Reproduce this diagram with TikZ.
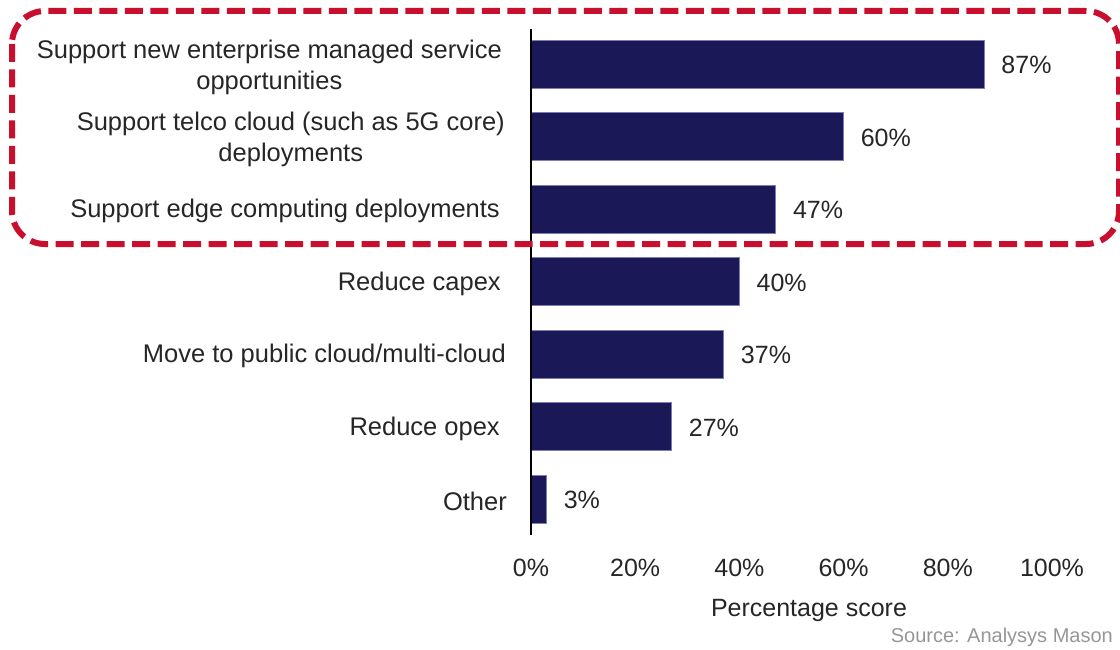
\documentclass[tikz,border=0pt]{standalone}
\usepackage{fontspec}
\setmainfont{Liberation Sans}
\definecolor{barfill}{RGB}{27,24,88}
\definecolor{barline}{RGB}{125,125,180}
\definecolor{hlred}{RGB}{200,16,46}
\definecolor{txt}{RGB}{38,38,38}
\definecolor{srcgray}{RGB}{150,150,150}
\begin{document}
\begin{tikzpicture}[x=1pt,y=-1pt,
  lbl/.style={anchor=east,inner sep=0pt,align=center,text=txt,font=\fontsize{25.5}{31}\selectfont},
  val/.style={anchor=west,inner sep=0pt,text=txt,font=\fontsize{25}{30}\selectfont},
  tick/.style={anchor=center,inner sep=0pt,text=txt,font=\fontsize{25}{30}\selectfont},
  bar/.style={fill=barfill,draw=barline,line width=0.8pt},
  hlbox/.style={draw=hlred,line width=6pt,dash pattern=on 18pt off 7.5pt,rounded corners=33pt}]
\useasboundingbox (0,0) rectangle (1120,650);
% bars and values
\foreach \i/\p in {1/87,2/60,3/47,4/40,5/37,6/27,7/3}{
  \pgfmathsetmacro\yt{40+(\i-1)*72.5}
  \pgfmathsetmacro\xe{531+5.21*\p}
  \draw[bar] (531,\yt) rectangle (\xe,\yt+48);
  \node[val] (v\i) at (\xe+17,\yt+25) {\p\%};
}
% axis
\coordinate (axtop) at (531,29);
\coordinate (axbot) at (531,535);
\draw[line width=2.4pt,black] (axtop) -- (axbot);
% category labels
\node[lbl] (l1) at (502,67) {Support new enterprise managed service\\opportunities};
\node[lbl] (l2) at (505,139) {Support telco cloud (such as 5G core)\\deployments};
\node[lbl] (l3) at (500,211) {Support edge computing deployments};
\node[lbl] (l4) at (501,284) {Reduce capex};
\node[lbl] (l5) at (506,356) {Move to public cloud/multi-cloud};
\node[lbl] (l6) at (500,429) {Reduce opex};
\node[lbl] (l7) at (507,501) {Other};
% ticks
\foreach \k in {0,...,5}{
  \pgfmathtruncatemacro\pc{\k*20}
  \node[tick] (t\k) at (531+104.2*\k,568) {\pc\%};
}
\node[tick] (xtitle) at (809,610) {Percentage score};
\node[anchor=east,inner sep=0pt,text=srcgray,font=\fontsize{20}{24}\selectfont] (src) at (1113,637) {Source: Analysys Mason};
% highlight box
\draw[hlbox] (12,11) rectangle (1119,244);
\end{tikzpicture}
\end{document}
